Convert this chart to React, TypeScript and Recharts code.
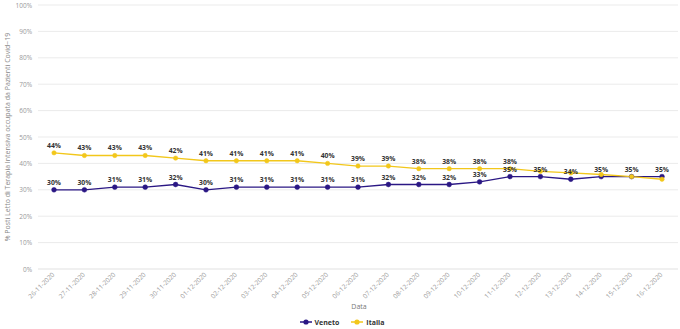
import React from "react";
import { LineChart, Line, XAxis, YAxis, CartesianGrid, Legend, LabelList, Customized } from "recharts";

const dates = [
  "26-11-2020", "27-11-2020", "28-11-2020", "29-11-2020", "30-11-2020",
  "01-12-2020", "02-12-2020", "03-12-2020", "04-12-2020", "05-12-2020",
  "06-12-2020", "07-12-2020", "08-12-2020", "09-12-2020", "10-12-2020",
  "11-12-2020", "12-12-2020", "13-12-2020", "14-12-2020", "15-12-2020", "16-12-2020",
];
const veneto = [30, 30, 31, 31, 32, 30, 31, 31, 31, 31, 31, 32, 32, 32, 33, 35, 35, 34, 35, 35, 35];
const italia = [44, 43, 43, 43, 42, 41, 41, 41, 41, 40, 39, 39, 38, 38, 38, 38, 37, 36.4, 35.8, 35, 34];
const italiaLabelShown = [1, 1, 1, 1, 1, 1, 1, 1, 1, 1, 1, 1, 1, 1, 1, 1, 0, 0, 0, 0, 0];
const yTicks = [0, 10, 20, 30, 40, 50, 60, 70, 80, 90, 100];
const yAxisTitle = "% Posti Letto di Terapia Intensiva occupata da Pazienti Covid−19";
const xAxisTitle = "Data";

const data = dates.map((d, i) => ({ date: d, Veneto: veneto[i], Italia: italia[i] }));

const FONT = "'Open Sans', sans-serif";
const VENETO_COLOR = "#2a1784";
const ITALIA_COLOR = "#f2c71b";

const XTick = (props: any) => {
  const { x, y, payload } = props;
  const ax = x + 1;
  const ay = y - 2;
  return (
    <text
      x={ax}
      y={ay}
      transform={`rotate(-45, ${ax}, ${ay})`}
      textAnchor="end"
      fontSize={6.5}
      fill="#999"
      fontFamily={FONT}
    >
      {payload.value}
    </text>
  );
};

const YTick = (props: any) => {
  const { x, y, payload } = props;
  return (
    <text x={x + 2} y={y + 2.5} textAnchor="end" fontSize={6.5} fill="#999" fontFamily={FONT}>
      {payload.value}%
    </text>
  );
};

const makeLabel = (shown?: number[]) => (props: any) => {
  const { x, y, value, index } = props;
  if (shown && !shown[index]) return null;
  return (
    <text
      x={x}
      y={y - 5}
      textAnchor="middle"
      fontSize={6.8}
      fontWeight="bold"
      fill="#333"
      fontFamily={FONT}
    >
      {Math.round(value)}%
    </text>
  );
};

const Titles = () => (
  <g>
    <text
      x={10}
      y={137}
      transform="rotate(-90, 10, 137)"
      textAnchor="middle"
      fontSize={7}
      fill="#888"
      fontFamily={FONT}
    >
      {yAxisTitle}
    </text>
    <text x={359} y={309} textAnchor="middle" fontSize={7} fill="#777" fontFamily={FONT}>
      {xAxisTitle}
    </text>
  </g>
);

const LegendContent = () => {
  const items = [
    { name: "Veneto", color: VENETO_COLOR },
    { name: "Italia", color: ITALIA_COLOR },
  ];
  return (
    <div style={{ display: "flex", justifyContent: "center", alignItems: "center", height: 18, paddingTop: 4, boxSizing: "border-box", gap: 12, fontFamily: FONT, fontSize: 7, fontWeight: "bold", color: "#333", marginLeft: 6 }}>
      {items.map((it) => (
        <div key={it.name} style={{ display: "flex", alignItems: "center" }}>
          <svg width={12} height={8} style={{ marginRight: 3 }}>
            <line x1={0} y1={4} x2={12} y2={4} stroke={it.color} strokeWidth={1.5} />
            <circle cx={6} cy={4} r={2.6} fill={it.color} />
          </svg>
          <span>{it.name}</span>
        </div>
      ))}
    </div>
  );
};

export default function App() {
  return (
    <div style={{ position: "absolute", top: 0, left: 0, width: 680, height: 329, background: "#fff" }}>
      <LineChart width={680} height={329} data={data} margin={{ top: 5, right: 2, left: 0, bottom: 0 }}>
        <CartesianGrid horizontal vertical={false} stroke="#ebebeb" strokeWidth={1} />
        <XAxis
          dataKey="date"
          tick={<XTick />}
          tickLine={false}
          axisLine={{ stroke: "#ebebeb" }}
          height={42}
          interval={0}
          padding={{ left: 16, right: 16 }}
        />
        <YAxis
          domain={[0, 100]}
          ticks={yTicks}
          interval={0}
          tick={<YTick />}
          tickLine={false}
          axisLine={false}
          width={38}
        />
        <Legend verticalAlign="bottom" height={18} content={<LegendContent />} />
        <Line
          dataKey="Veneto"
          stroke={VENETO_COLOR}
          strokeWidth={1.3}
          dot={{ r: 2.4, fill: VENETO_COLOR, stroke: VENETO_COLOR, strokeWidth: 0.5 }}
          isAnimationActive={false}
        >
          <LabelList dataKey="Veneto" content={makeLabel()} />
        </Line>
        <Line
          dataKey="Italia"
          stroke={ITALIA_COLOR}
          strokeWidth={1.3}
          dot={{ r: 2.2, fill: ITALIA_COLOR, stroke: ITALIA_COLOR, strokeWidth: 0.5 }}
          isAnimationActive={false}
        >
          <LabelList dataKey="Italia" content={makeLabel(italiaLabelShown)} />
        </Line>
        <Customized component={Titles} />
      </LineChart>
    </div>
  );
}
